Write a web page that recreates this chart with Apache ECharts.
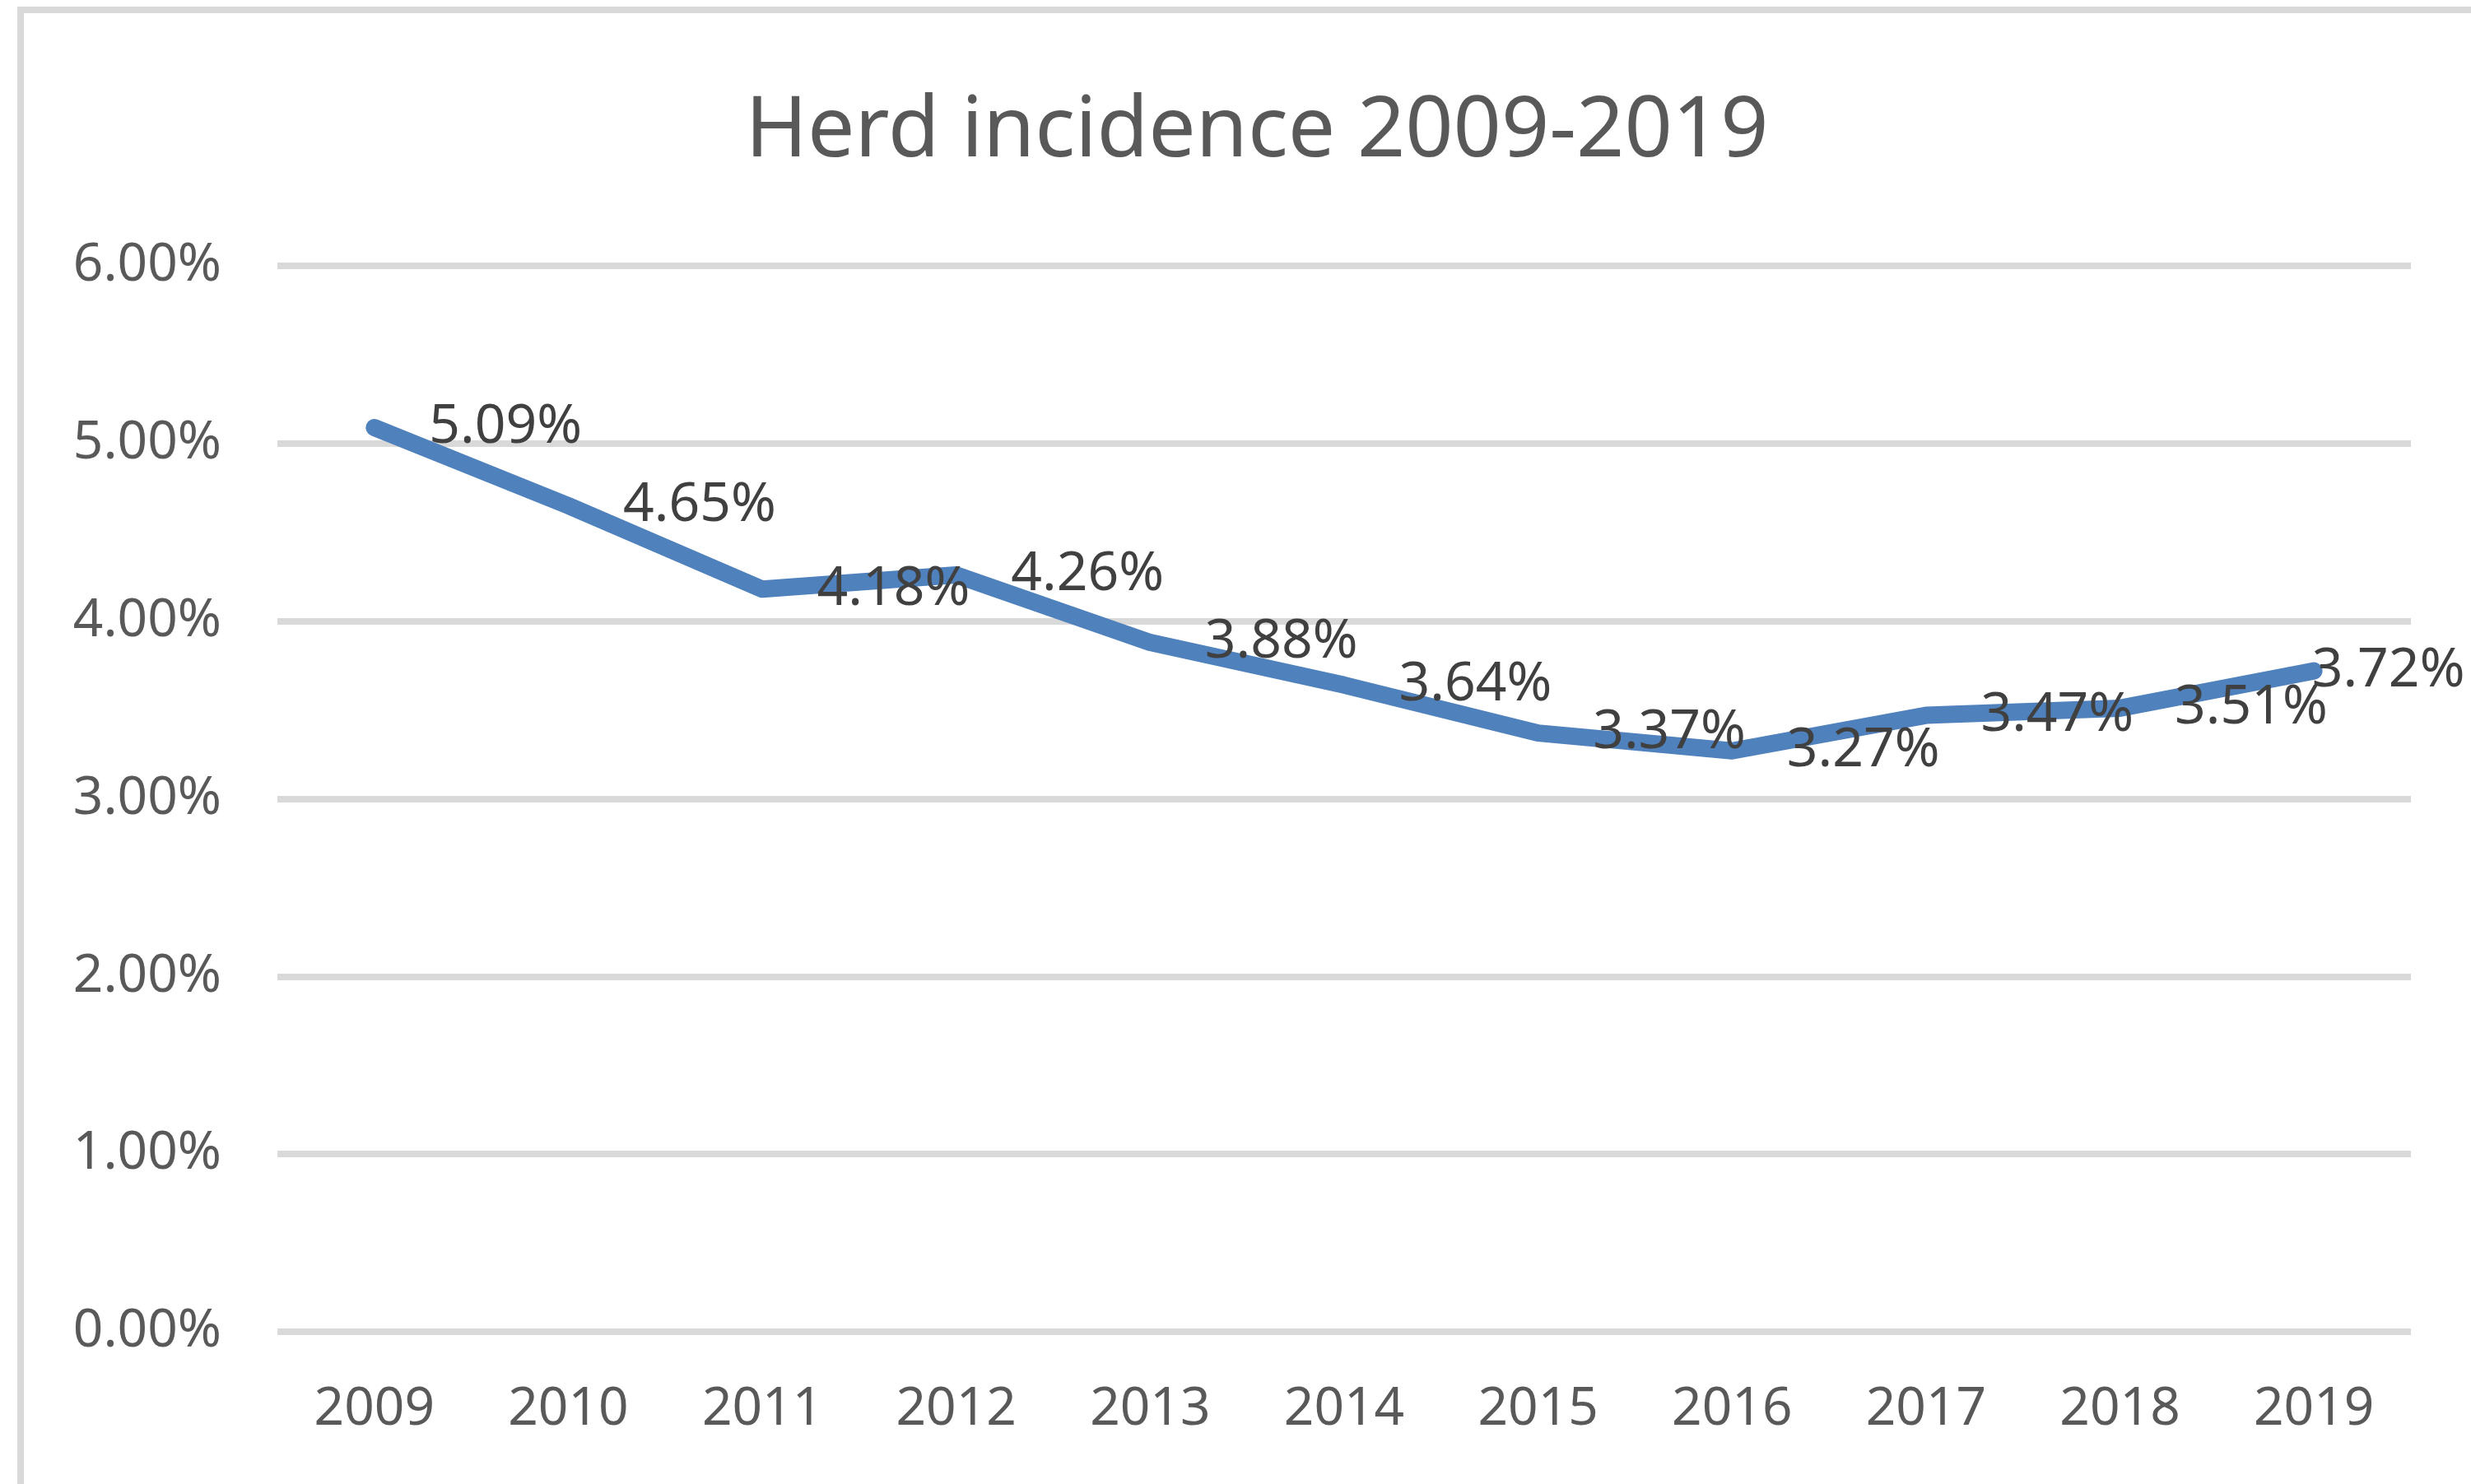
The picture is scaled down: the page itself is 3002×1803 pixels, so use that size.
<!DOCTYPE html>
<html>
<head>
<meta charset="utf-8">
<title>Herd incidence 2009-2019</title>
<script src="https://cdn.jsdelivr.net/npm/echarts@6/dist/echarts.min.js"></script>
<style>
  html, body { margin: 0; padding: 0; background: #fff; }
  #herdChart { width: 3002px; height: 1803px; }
</style>
</head>
<body>
<div id="herdChart"></div>
<script>
// values (percent)
const years = ['2009', '2010', '2011', '2012', '2013', '2014', '2015', '2016', '2017', '2018', '2019']
const incidence = [5.09, 4.65, 4.18, 4.26, 3.88, 3.64, 3.37, 3.27, 3.47, 3.51, 3.72]
const yTicks = [0, 1, 2, 3, 4, 5, 6]

const font = "'Noto Sans', 'Open Sans', sans-serif"

const seriesData = incidence.map((v, i) => {
    // excel pulls the last label back inside the chart area
    if (i === incidence.length - 1) {
        return { value: v, label: { position: 'right', distance: -3 } }
    }
    return v
})

const chart = echarts.init(document.querySelector('#herdChart'))
chart.setOption({
    backgroundColor: '#ffffff',
    animation: false,
    title: {
        text: 'Herd incidence 2009-2019',
        left: 1522,
        textAlign: 'center',
        top: 105,
        textStyle: {
            fontFamily: font,
            fontSize: 102,
            lineHeight: 102,
            fontWeight: 'normal',
            color: '#595959',
        },
    },
    graphic: [
        {
            // chart frame, only top and left edges are in view
            type: 'rect',
            shape: { x: 25, y: 12, width: 4000, height: 4000 },
            style: { fill: 'none', stroke: '#D9D9D9', lineWidth: 8 },
            silent: true,
        },
    ],
    grid: {
        left: 337,
        right: 73,
        top: 323,
        bottom: 185,
        containLabel: false,
    },
    xAxis: {
        type: 'category',
        data: years,
        boundaryGap: true,
        axisLine: { show: false },
        axisTick: { show: false },
        axisLabel: {
            margin: 62,
            fontFamily: font,
            fontSize: 64,
            lineHeight: 66,
            color: '#595959',
        },
    },
    yAxis: {
        type: 'value',
        min: yTicks[0],
        max: yTicks[yTicks.length - 1],
        interval: 1,
        axisLine: { show: false },
        axisTick: { show: false },
        splitLine: {
            lineStyle: { color: '#D9D9D9', width: 8 },
        },
        axisLabel: {
            margin: 68,
            fontFamily: font,
            fontSize: 64,
            lineHeight: 66,
            color: '#595959',
            formatter: (v) => v.toFixed(2) + '%',
        },
    },
    series: [
        {
            name: 'Herd incidence',
            type: 'line',
            data: seriesData,
            symbol: 'circle',
            symbolSize: 1,
            showSymbol: true,
            itemStyle: { color: '#4F81BD' },
            lineStyle: { color: '#4F81BD', width: 21, cap: 'round', join: 'round' },
            label: {
                show: true,
                position: 'right',
                distance: 66,
                fontFamily: font,
                fontSize: 66,
                lineHeight: 66,
                color: '#404040',
                formatter: (p) => p.value.toFixed(2) + '%',
            },
            labelLayout: { hideOverlap: false },
        },
    ],
})
</script>
</body>
</html>
